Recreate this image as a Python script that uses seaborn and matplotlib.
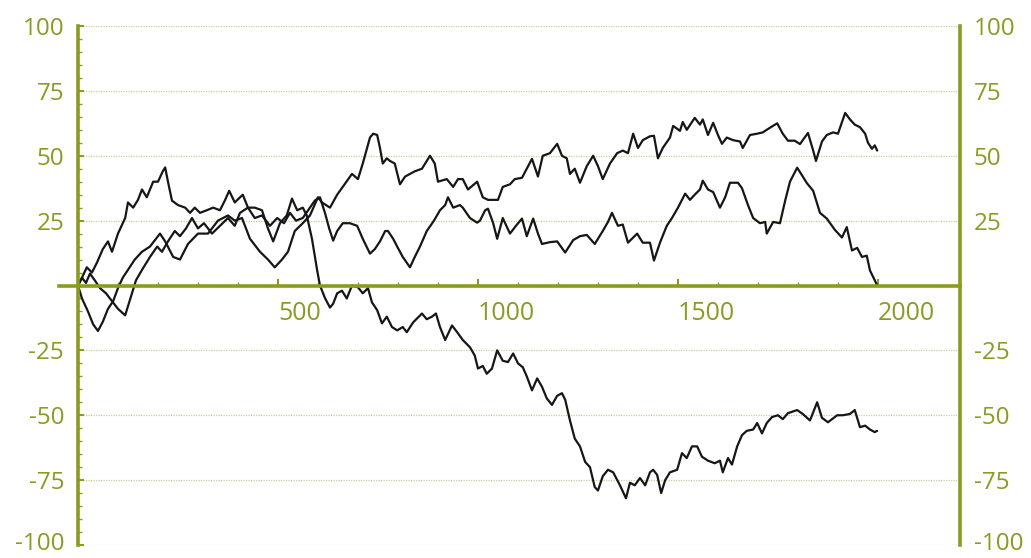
import pandas as pd
import matplotlib
matplotlib.use("Agg")
import matplotlib.pyplot as plt
import matplotlib.transforms as mtransforms
import seaborn as sns
from matplotlib.ticker import FixedLocator, MultipleLocator

# walk that ends highest (~53)
steps_a = [0, 10, 25, 38, 50, 62, 75, 88, 100, 112, 125, 142, 160, 180, 205, 218, 238, 255, 275, 300,
           325, 350, 375, 392, 410, 430, 455, 475, 492, 510, 525, 542, 562, 580, 600, 610, 630, 648, 662, 685,
           700, 712, 730, 738, 748, 755, 762, 772, 780, 792, 805, 818, 830, 842, 860, 880, 892, 900, 922, 938,
           950, 962, 975, 998, 1012, 1025, 1038, 1050, 1062, 1080, 1092, 1110, 1122, 1135, 1150, 1162, 1180, 1198, 1210, 1222,
           1230, 1242, 1255, 1272, 1288, 1300, 1312, 1330, 1348, 1362, 1375, 1388, 1400, 1412, 1430, 1440, 1450, 1462, 1480, 1488,
           1505, 1512, 1522, 1542, 1555, 1562, 1575, 1588, 1600, 1610, 1622, 1638, 1655, 1662, 1680, 1698, 1712, 1730, 1748, 1762,
           1775, 1792, 1805, 1825, 1838, 1845, 1860, 1872, 1888, 1900, 1918, 1930, 1942, 1955, 1968, 1975, 1985, 1992, 1998]
walk_a = [0, -5, -10, -15, -17.5, -14, -9, -6, -1, 3, 6, 10, 13, 15, 20, 17, 11, 10, 16, 20,
          20, 25, 27, 25, 26, 18, 13, 10, 7, 10, 13, 21, 24, 27, 34, 32, 30, 35, 38, 43,
          41, 47, 57, 58.5, 58, 53, 47, 49, 48, 47, 39, 42, 43, 44, 45, 50, 47, 40, 41, 38,
          41, 41, 37, 40, 34, 33, 33, 33, 38, 39, 41, 41.5, 45, 48.8, 42, 50, 51, 54.6, 50, 49,
          43, 45, 39.6, 46, 50, 46, 41, 47, 51, 52, 51, 58.5, 53, 56, 57.5, 57.7, 49, 53, 57, 61.5,
          59.6, 63, 60, 64.6, 62, 64, 58, 62.7, 58, 54.6, 57, 56, 55.5, 53, 58, 58.5, 59, 60.8, 62.5, 58.5,
          55.8, 55.8, 54.5, 58.8, 52, 48, 55.5, 58, 59, 58.5, 66.5, 64, 62, 61, 58.5, 55, 52.7, 54, 52]

# walk that returns to zero at the end
steps_b = [0, 10, 20, 30, 42, 55, 70, 85, 100, 118, 125, 135, 145, 160, 180, 198, 210, 225, 242, 255,
           270, 285, 300, 315, 335, 355, 375, 392, 405, 425, 442, 460, 480, 498, 515, 530, 545, 562, 580, 592,
           605, 618, 628, 638, 648, 662, 680, 698, 712, 730, 742, 755, 768, 775, 788, 798, 812, 830, 842, 855,
           872, 890, 905, 918, 925, 938, 955, 962, 980, 998, 1005, 1018, 1025, 1038, 1048, 1062, 1080, 1095, 1110, 1122,
           1138, 1150, 1160, 1180, 1198, 1218, 1238, 1255, 1272, 1292, 1312, 1325, 1335, 1350, 1362, 1375, 1398, 1412, 1430, 1440,
           1455, 1472, 1485, 1500, 1505, 1518, 1530, 1542, 1555, 1562, 1575, 1588, 1605, 1618, 1630, 1650, 1660, 1675, 1688, 1705,
           1718, 1722, 1738, 1755, 1768, 1780, 1798, 1810, 1822, 1838, 1855, 1872, 1892, 1910, 1922, 1935, 1948, 1960, 1972, 1980,
           1992, 1998]
walk_b = [0, 3, 1, 4.6, 2, -1, -3, -6, -9, -11.5, -8, -3, 2, 6, 11, 15, 13, 17, 21, 19,
          22, 26, 22, 24, 20, 23, 26, 23, 28, 30, 26, 27, 23, 26, 24, 28, 25, 26, 30, 32.7,
          34, 27.7, 22, 17.3, 21, 24, 24, 23, 18, 12.3, 14, 17, 21, 21, 18, 15, 11, 7, 11, 15,
          21, 25, 29, 31, 34, 30, 31, 30, 26, 24.2, 25, 29, 29.6, 24, 18, 26, 20, 23, 25.8, 19,
          25.8, 20, 16, 16.7, 17, 12.7, 17.5, 19, 19.5, 16, 21, 24.5, 28, 23, 23.5, 16.5, 20, 16.5, 16.5, 9.6,
          16.5, 23, 26, 30, 31.5, 35.4, 33, 35, 37, 40.4, 37, 36, 30, 34, 39.6, 39.6, 37.5, 31, 26, 24,
          24.5, 20, 24.5, 24, 32.7, 40, 45.4, 42.5, 39.5, 36.5, 28, 25.8, 21.5, 18.5, 22.5, 13.5, 14.5, 11, 11.5, 5.8,
          2, 0]

# walk that drifts far below zero
steps_c = [0, 10, 22, 35, 48, 62, 75, 85, 100, 118, 125, 138, 150, 160, 172, 188, 200, 212, 218, 225,
           235, 250, 268, 280, 292, 305, 322, 338, 355, 368, 378, 392, 412, 425, 442, 460, 475, 488, 505, 522,
           535, 548, 562, 572, 585, 598, 605, 618, 630, 638, 648, 660, 672, 685, 700, 712, 725, 735, 748, 760,
           772, 785, 798, 812, 822, 838, 860, 872, 885, 895, 905, 918, 935, 948, 962, 980, 992, 1000, 1012, 1022,
           1035, 1048, 1062, 1075, 1088, 1100, 1112, 1122, 1135, 1148, 1160, 1172, 1185, 1198, 1210, 1218, 1230, 1242, 1255, 1268,
           1280, 1292, 1300, 1312, 1325, 1338, 1355, 1370, 1380, 1392, 1405, 1418, 1430, 1438, 1448, 1458, 1468, 1480, 1498, 1510,
           1522, 1535, 1548, 1560, 1575, 1592, 1605, 1612, 1625, 1635, 1648, 1660, 1672, 1688, 1698, 1710, 1722, 1735, 1750, 1762,
           1775, 1798, 1812, 1830, 1848, 1860, 1875, 1898, 1912, 1930, 1942, 1955, 1968, 1980, 1992, 1998]
walk_c = [0, 3, 7, 5, 9, 14, 17, 13, 20, 26, 32, 30, 33, 37, 34, 40, 40, 44, 45.5, 40,
          32.7, 31, 30, 28, 30, 28, 29, 30, 29, 33, 36.5, 32, 35, 30, 30, 29, 22, 17, 24, 27,
          33.5, 29, 30, 27, 18, 5.8, 0, -5, -8.5, -7, -3, -2, -5, 0, -0.7, -3, -1, -6.5, -9.5, -14.6,
          -12, -16, -17.3, -16, -18, -14.2, -10.8, -13, -12, -10.8, -16, -21, -15.4, -18, -21, -23.8, -27, -32, -31, -34,
          -32, -25, -29, -29.5, -26.2, -30, -31.5, -35, -40.4, -35.8, -39, -43.5, -46, -42.5, -41.5, -44, -52, -59, -62, -68,
          -70, -77.7, -79, -73.5, -71, -72, -77, -82, -76, -77, -74.2, -77, -72, -71, -73, -80, -75, -72, -71, -64.6,
          -66.5, -62, -62, -66, -67.5, -68.5, -67.5, -72, -66.5, -69, -62, -57.7, -56, -55.5, -53, -57, -53, -50.7, -50, -51.5,
          -49.2, -48, -49.5, -52, -45, -51, -52.7, -50, -50, -49.5, -48, -54.6, -54, -55.5, -56.5, -56]

y_ticks = [-100, -75, -50, -25, 25, 50, 75, 100]
x_ticks = [500, 1000, 1500, 2000]

df = pd.concat([
    pd.DataFrame({'step': steps_a, 'value': walk_a, 'walk': 'a'}),
    pd.DataFrame({'step': steps_b, 'value': walk_b, 'walk': 'b'}),
    pd.DataFrame({'step': steps_c, 'value': walk_c, 'walk': 'c'}),
])

sns.set_style("white")
plt.rcParams['font.family'] = ['Open Sans', 'DejaVu Sans']

olive = '#8b9a22'
grid_col = '#cfcc9e'

fig = plt.figure(figsize=(10.31, 5.58), dpi=100)
ax = fig.add_axes([0.0572, 0.0233, 0.8739, 0.9301])

sns.lineplot(data=df, x='step', y='value', units='walk', estimator=None, sort=False,
             color='#161616', lw=1.6, ax=ax)

x0, x1 = -47.5, 2205
ax.set_xlim(x0, x1)
ax.set_ylim(-100, 100)
ax.set_xlabel('')
ax.set_ylabel('')

# dotted grid starts at the left axis line
for y in y_ticks:
    ax.axhline(y, xmin=(0 - x0) / (x1 - x0), xmax=1, color=grid_col, lw=0.9, ls=(0, (1, 1)), zorder=0)

ax.spines['top'].set_visible(False)
ax.spines['left'].set_position(('data', 0))
ax.spines['bottom'].set_position(('data', 0))
for s in ['left', 'bottom', 'right']:
    ax.spines[s].set_color(olive)
    ax.spines[s].set_linewidth(2.6)

ax.set_xticks(x_ticks)
ax.set_xticklabels([str(v) for v in x_ticks])
ax.xaxis.set_minor_locator(FixedLocator(list(range(100, 2001, 100))))
ax.tick_params(axis='x', which='both', direction='in', color=olive, labelcolor=olive,
               labelsize=18, top=False, bottom=True)
ax.tick_params(axis='x', which='major', length=5, width=1.5, pad=11.5)
ax.tick_params(axis='x', which='minor', length=3, width=1)
for lab in ax.get_xticklabels():
    lab.set_horizontalalignment('left')

ax.set_yticks(y_ticks)
ax.set_yticklabels([str(v) for v in y_ticks])
ax.yaxis.set_minor_locator(MultipleLocator(5))
ax.tick_params(axis='y', which='both', direction='in', left=True, right=False,
               labelleft=True, labelright=True, color=olive, labelcolor=olive, labelsize=17.5, pad=10)
ax.tick_params(axis='y', which='major', length=4, width=1.5)
ax.tick_params(axis='y', which='minor', length=3, width=1)

# keep the bottom "-100" labels inside the canvas
lift = mtransforms.ScaledTranslation(0, 4 / 100, fig.dpi_scale_trans)
bottom_tick = ax.yaxis.get_major_ticks()[0]
bottom_tick.label1.set_transform(bottom_tick.label1.get_transform() + lift)
bottom_tick.label2.set_transform(bottom_tick.label2.get_transform() + lift)

fig.savefig('out.png', dpi=100)
